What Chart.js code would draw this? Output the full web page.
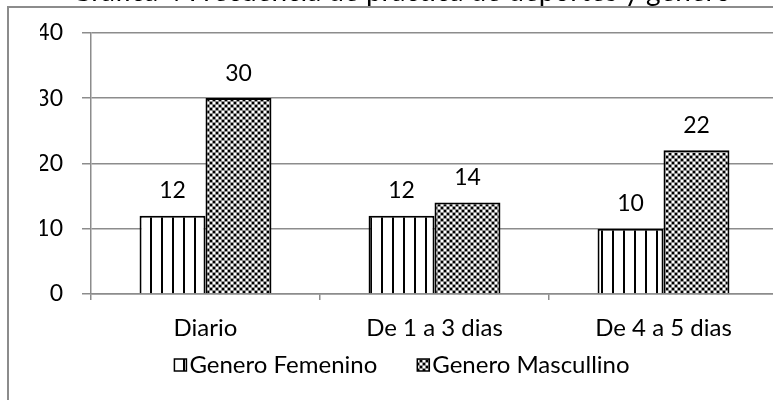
<!DOCTYPE html>
<html>
<head>
<meta charset="utf-8">
<script src="https://cdn.jsdelivr.net/npm/chart.js@4.4.1/dist/chart.umd.min.js"></script>
<style>
	html, body { margin: 0; padding: 0; background: #fff; overflow: hidden; width: 773px; height: 400px; }
	#wrap { position: absolute; left: 0; top: 0; width: 804px; height: 400px; }
	canvas { display: block; }
</style>
</head>
<body>
<div id="wrap"><canvas id="graph1" width="804" height="400"></canvas></div>
<script>
// dati del grafico
var titolo = "Gráfica 4 Frecuencia de práctica de deportes y género";
var categorie = ["Diario", "De 1 a 3 dias", "De 4 a 5 dias"];
var serie = ["Genero Femenino", "Genero Mascullino"];
var femenino = [12, 12, 10];
var masculino = [30, 14, 22];
var tickY = [0, 10, 20, 30, 40];

var FONT = "Lato, 'Open Sans', sans-serif";
var SIZE = 24;       // testo categorie e legenda
var SIZE_NUM = 23;   // numeri
var GRIGIO = "#8c8c8c";

Chart.defaults.font.family = FONT;
Chart.defaults.font.size = SIZE;
Chart.defaults.color = "#000";

// motivo a righe verticali
function patternRighe(ctx) {
	var c = document.createElement("canvas");
	c.width = 11; c.height = 4;
	var g = c.getContext("2d");
	g.fillStyle = "#fff";
	g.fillRect(0, 0, 11, 4);
	g.fillStyle = "#000";
	g.fillRect(7, 0, 2, 4);
	return ctx.createPattern(c, "repeat");
}

// motivo a scacchiera
function patternScacchi(ctx) {
	var c = document.createElement("canvas");
	c.width = 6; c.height = 6;
	var g = c.getContext("2d");
	g.fillStyle = "#909090";
	g.fillRect(0, 0, 6, 6);
	g.fillStyle = "#000";
	g.fillRect(0, 0, 2, 2);
	g.fillRect(3, 3, 2, 2);
	g.fillStyle = "#fff";
	g.fillRect(3, 0, 2, 2);
	g.fillRect(0, 3, 2, 2);
	return ctx.createPattern(c, "repeat");
}

// cornice e titolo (tagliato in alto come nell'originale)
var pluginCornice = {
	id: "cornice",
	beforeDraw: function(chart) {
		var ctx = chart.ctx;
		ctx.save();
		ctx.strokeStyle = GRIGIO;
		ctx.lineWidth = 2;
		ctx.beginPath();
		ctx.moveTo(8, 400);
		ctx.lineTo(8, 7);
		ctx.lineTo(chart.width, 7);
		ctx.stroke();
		ctx.restore();
	},
	afterDraw: function(chart) {
		var ctx = chart.ctx;
		ctx.save();
		ctx.font = "20px " + FONT;
		var w = ctx.measureText(titolo).width;
		var size = Math.round(20 * 663 / w);
		ctx.font = size + "px " + FONT;
		ctx.fillStyle = "#000";
		ctx.textAlign = "center";
		ctx.textBaseline = "alphabetic";
		ctx.fillText(titolo, 401, 1);
		ctx.restore();
	}
};

// valori sopra le barre
var pluginValori = {
	id: "valori",
	afterDatasetsDraw: function(chart) {
		var ctx = chart.ctx;
		ctx.save();
		ctx.font = SIZE_NUM + "px " + FONT;
		ctx.fillStyle = "#000";
		ctx.textAlign = "center";
		ctx.textBaseline = "middle";
		chart.data.datasets.forEach(function(ds, i) {
			chart.getDatasetMeta(i).data.forEach(function(bar, j) {
				ctx.fillText(ds.data[j], bar.x, bar.y - 25);
			});
		});
		ctx.restore();
	}
};

// legenda in basso
var pluginLegenda = {
	id: "legenda",
	afterDraw: function(chart) {
		var ctx = chart.ctx;
		var box = 12, gap = 3, spazio = 40, y = 365;
		ctx.save();
		ctx.font = SIZE + "px " + FONT;
		var tot = 0;
		chart.data.datasets.forEach(function(ds, i) {
			tot += box + gap + ctx.measureText(ds.label).width;
			if (i > 0) tot += spazio;
		});
		var x = 402 - tot / 2;
		chart.data.datasets.forEach(function(ds) {
			ctx.fillStyle = ds.backgroundColor;
			ctx.fillRect(x, y - box / 2, box, box);
			ctx.strokeStyle = "#000";
			ctx.lineWidth = 1.5;
			ctx.strokeRect(x, y - box / 2, box, box);
			ctx.fillStyle = "#000";
			ctx.textAlign = "left";
			ctx.textBaseline = "middle";
			ctx.fillText(ds.label, x + box + gap, y);
			x += box + gap + ctx.measureText(ds.label).width + spazio;
		});
		ctx.restore();
	}
};

var ctx = document.getElementById("graph1").getContext("2d");

var grafico = new Chart(ctx, {
	type: "bar",
	data: {
		labels: categorie,
		datasets: [
			{
				label: serie[0],
				data: femenino,
				backgroundColor: patternRighe(ctx),
				borderColor: "#000",
				borderWidth: 2,
				categoryPercentage: 0.576,
				barPercentage: 1
			},
			{
				label: serie[1],
				data: masculino,
				backgroundColor: patternScacchi(ctx),
				borderColor: "#000",
				borderWidth: 2,
				categoryPercentage: 0.576,
				barPercentage: 1
			}
		]
	},
	options: {
		responsive: false,
		animation: false,
		layout: { padding: { left: 40, right: 26, top: 32, bottom: 46 } },
		plugins: {
			legend: { display: false },
			tooltip: { enabled: false }
		},
		scales: {
			x: {
				grid: { drawOnChartArea: false, drawTicks: true, tickLength: 6, color: GRIGIO, lineWidth: 1.5, offset: true },
				border: { color: GRIGIO, width: 1.5 },
				ticks: { padding: 14, maxRotation: 0 },
				afterFit: function(scale) { scale.height = 60; }
			},
			y: {
				min: tickY[0],
				max: tickY[tickY.length - 1],
				grid: { color: GRIGIO, lineWidth: 1.5, tickLength: 9 },
				border: { color: GRIGIO, width: 1.5 },
				ticks: { stepSize: tickY[1] - tickY[0], padding: 19, font: { size: SIZE_NUM } },
				afterFit: function(scale) { scale.width = 51; }
			}
		}
	},
	plugins: [pluginCornice, pluginValori, pluginLegenda]
});
</script>
</body>
</html>
